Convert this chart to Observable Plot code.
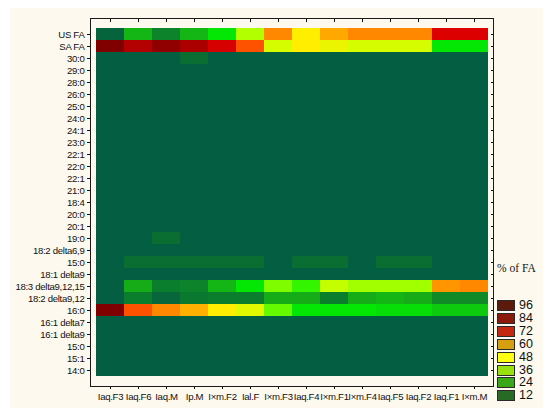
<!DOCTYPE html>
<html>
<head>
<meta charset="utf-8">
<script src="https://cdn.jsdelivr.net/npm/d3@7"></script>
<script src="https://cdn.jsdelivr.net/npm/@observablehq/plot@0.6"></script>
<style>
  html, body { margin: 0; padding: 0; background: #ffffff; }
  #wrap { position: relative; width: 550px; height: 413px; overflow: hidden; }
  #panel { position: absolute; left: 10px; top: 8px; width: 533px; height: 400px; background: #fdf9ef; }
  #chart { position: absolute; left: 0; top: 0; }
  #chart svg text { letter-spacing: -0.3px; }
  #legend { position: absolute; left: 0; top: 0; width: 550px; height: 413px; pointer-events: none; }
  .ltitle { position: absolute; left: 497px; top: 262px; font-family: "Liberation Serif", serif; font-size: 11.5px; color: #111; }
  .sw { position: absolute; left: 497px; width: 16px; height: 9px; border: 1px solid #2a2a2a; }
  .sl { position: absolute; left: 519px; font-family: "Liberation Sans", Arial, sans-serif; font-size: 12.5px; color: #111; line-height: 12px; }
</style>
</head>
<body>
<div id="wrap">
  <div id="panel"></div>
  <div id="chart"></div>
  <div id="legend"></div>
</div>
<script>
// Columns (samples)
const columns = ["Iaq.F3","Iaq.F6","Iaq.M","Ip.M","I×m.F2","Ial.F","I×m.F3","Iaq.F4","I×m.F1","I×m.F4","Iaq.F5","Iaq.F2","Iaq.F1","I×m.M"];

// Row labels, top to bottom
const rowLabels = ["US FA","SA FA","30:0","29:0","28:0","26:0","25:0","24:0","24:1","23:0","22:1","22:0","22:1","21:0","18:4","20:0","20:1","19:0","18:2 delta6,9","15:0","18:1 delta9","18:3 delta9,12,15","18:2 delta9,12","16:0","16:1 delta7","16:1 delta9","15:0","15:1","14:0"];

// % of FA values (one array per row)
const usFA     = [3,24,15,24,30,40,60,48,55,60,60,60,72,72];
const saFA     = [96,84,92,86,74,66,44,48,46,44,44,44,30,30];
const r30_0    = [0,0,0,9,0,0,0,0,0,0,0,0,0,0];
const empty    = [0,0,0,0,0,0,0,0,0,0,0,0,0,0];
const r19_0    = [0,0,9,0,0,0,0,0,0,0,0,0,0,0];
const r15_0a   = [0,9,9,9,9,9,0,9,9,0,9,9,0,0];
const r18_3    = [0,22,14,15,24,30,36,33,42,38,38,38,58,60];
const r18_2b   = [0,14,4,12,14,14,22,22,14,22,24,22,16,16];
const r16_0    = [96,66,60,54,48,45,35,30,30,30,29,29,27,27];

const rowValues = [usFA, saFA, r30_0, empty, empty, empty, empty, empty, empty, empty, empty, empty, empty, empty, empty, empty, empty, r19_0, empty, r15_0a, empty, r18_3, r18_2b, r16_0, empty, empty, empty, empty, empty];

// Colour ramp of the heat map
const rampStops  = [0, 9, 14, 20, 26, 31, 37, 43, 48, 54, 60, 66, 72, 84, 96];
const rampColors = ["#045f42","#0a6e32","#0b7e2e","#16a21a","#12c012","#00f000","#98ff00","#ccff00","#ffee00","#ffb000","#ff8800","#ff5200","#dd0000","#b30000","#800000"];

// Legend
const legendValues = [96,84,72,60,48,36,24,12];
const legendColors = ["#5c1a0c","#8c1a0a","#c42810","#d4a010","#ffff10","#98e010","#38a818","#276a26"];

const color = d3.scaleLinear().domain(rampStops).range(rampColors).clamp(true);

const data = [];
rowValues.forEach((vals, r) => {
  vals.forEach((v, c) => data.push({col: columns[c], row: r, value: v}));
});

const chart = Plot.plot({
  width: 550,
  height: 413,
  marginLeft: 90,
  marginRight: 57,
  marginTop: 18,
  marginBottom: 27,
  style: {background: "transparent", fontFamily: "Liberation Sans, Arial, sans-serif", fontSize: "9.6px", color: "#111"},
  x: {domain: columns, padding: 0, label: null},
  y: {domain: d3.range(rowLabels.length), padding: 0, label: null},
  marks: [
    Plot.cell(data, {x: "col", y: "row", fill: d => color(d.value), inset: 0, shapeRendering: "crispEdges"}),
    Plot.axisX({anchor: "bottom", tickSize: 3, tickPadding: 4, label: null}),
    Plot.axisX({anchor: "top", tickSize: -3, tickFormat: () => "", label: null}),
    Plot.axisY({anchor: "left", tickSize: 3, tickPadding: 3, tickFormat: i => rowLabels[i], label: null}),
    Plot.axisY({anchor: "right", tickSize: -3, tickFormat: () => "", label: null}),
    Plot.frame({stroke: "#1a1a1a", strokeWidth: 1})
  ]
});
document.getElementById("chart").appendChild(chart);

// HTML legend
const lg = document.getElementById("legend");
const t = document.createElement("div");
t.className = "ltitle";
t.textContent = "% of FA";
lg.appendChild(t);
legendValues.forEach((v, i) => {
  const top = 300 + i * 12.9;
  const s = document.createElement("div");
  s.className = "sw";
  s.style.top = top + "px";
  s.style.background = legendColors[i];
  lg.appendChild(s);
  const l = document.createElement("div");
  l.className = "sl";
  l.style.top = (top - 1) + "px";
  l.textContent = v;
  lg.appendChild(l);
});
</script>
</body>
</html>
